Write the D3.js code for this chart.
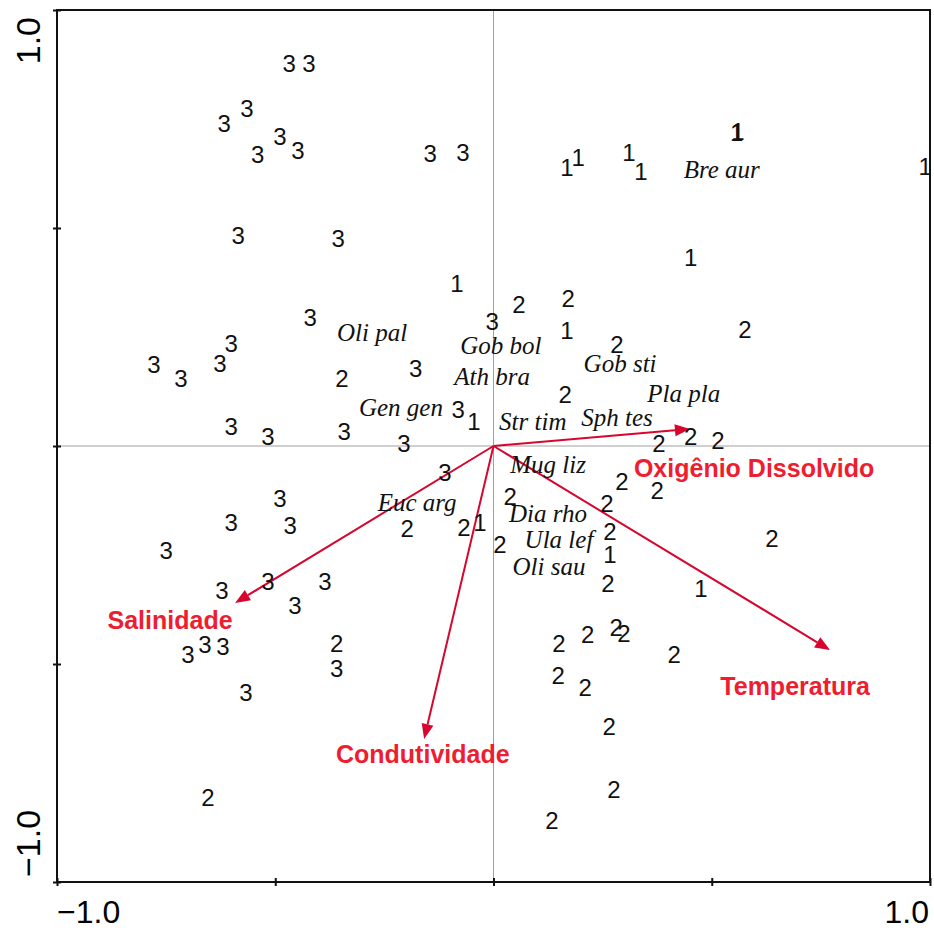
<!DOCTYPE html>
<html>
  <head>
    <meta charset="utf-8" />
    <title>CCA biplot</title>
    <script src="https://d3js.org/d3.v7.min.js"></script>
    <style>
        body{
            margin:0;
            background:#fff;
        }
    </style>
  </head>
  <body>
    <svg id="biplot">
        <g id="zero"></g>
        <g id="x"></g>
        <g id="y"></g>
        <g id="frame"></g>
        <g id="arrows"></g>
        <g id="samples"></g>
        <g id="species"></g>
        <g id="envLabels"></g>
    </svg>

    <script>
      // sample scores, one array per group (axis 1, axis 2)
      var group1 = [
        [-0.084, 0.372], [0.168, 0.638], [0.194, 0.663], [0.310, 0.674], [0.338, 0.631],
        [0.557, 0.720], [0.560, 0.721], [0.989, 0.642], [0.452, 0.433], [0.168, 0.266],
        [-0.045, 0.057], [-0.031, -0.174], [0.267, -0.248], [0.475, -0.326]
      ];
      var group2 = [
        [0.058, 0.326], [0.171, 0.339], [0.576, 0.268], [0.283, 0.234], [-0.347, 0.156],
        [0.164, 0.119], [0.379, 0.007], [0.452, 0.021], [0.514, 0.014], [0.294, -0.080],
        [0.375, -0.101], [0.038, -0.115], [0.260, -0.131], [-0.198, -0.188], [-0.068, -0.186],
        [0.267, -0.195], [0.015, -0.225], [0.638, -0.211], [0.262, -0.314], [-0.359, -0.452],
        [0.150, -0.452], [0.216, -0.433], [0.281, -0.415], [0.299, -0.429], [0.414, -0.479],
        [0.148, -0.525], [0.210, -0.553], [0.265, -0.644], [0.276, -0.787], [-0.654, -0.805],
        [0.134, -0.858]
      ];
      var group3 = [
        [-0.468, 0.878], [-0.423, 0.878], [-0.565, 0.775], [-0.617, 0.741], [-0.489, 0.711],
        [-0.540, 0.670], [-0.448, 0.679], [-0.145, 0.672], [-0.070, 0.674], [-0.585, 0.484],
        [-0.356, 0.477], [-0.420, 0.296], [-0.003, 0.287], [-0.601, 0.236], [-0.778, 0.188],
        [-0.627, 0.190], [-0.716, 0.156], [-0.178, 0.177], [-0.081, 0.083], [-0.601, 0.046],
        [-0.517, 0.023], [-0.342, 0.034], [-0.205, 0.007], [-0.111, -0.060], [-0.489, -0.119],
        [-0.601, -0.174], [-0.466, -0.181], [-0.750, -0.239], [-0.517, -0.310], [-0.386, -0.310],
        [-0.622, -0.330], [-0.455, -0.365], [-0.661, -0.456], [-0.620, -0.459], [-0.700, -0.477],
        [-0.359, -0.509], [-0.567, -0.564]
      ];

      // species scores
      var speciesNames = ["Bre aur", "Oli pal", "Gob bol", "Gob sti", "Ath bra", "Pla pla", "Gen gen",
        "Str tim", "Sph tes", "Mug liz", "Euc arg", "Dia rho", "Ula lef", "Oli sau"];
      var speciesX = [0.523, -0.278, 0.017, 0.290, -0.003, 0.436, -0.212, 0.090, 0.283, 0.125, -0.175, 0.125, 0.150, 0.127];
      var speciesY = [0.633, 0.257, 0.229, 0.188, 0.156, 0.117, 0.087, 0.055, 0.064, -0.044, -0.131, -0.158, -0.216, -0.278];

      // environmental variables: arrow tips and label anchors
      var envNames = ["Oxigênio Dissolvido", "Salinidade", "Condutividade", "Temperatura"];
      var envX = [0.450, -0.592, -0.159, 0.771];
      var envY = [0.039, -0.360, -0.672, -0.468];
      var envLabelX = [0.597, -0.741, -0.162, 0.691];
      var envLabelY = [-0.050, -0.399, -0.706, -0.550];

      var axisTicks = [-1, -0.5, 0, 0.5, 1];

      var width = 934;
      var height = 930;
      var margin = {top: 10, right: 4, bottom: 48, left: 57};

      var sans = "'Liberation Sans', Arial, sans-serif";
      var serif = "'Liberation Serif', 'Times New Roman', serif";
      var red = "#ee1d2f";
      var arrowRed = "#d6062e";

      var svg = d3.select("#biplot")
        .attr("width", width)
        .attr("height", height);

      var x = d3.scaleLinear()
        .domain([-1, 1])
        .range([margin.left, width - margin.right]);

      var y = d3.scaleLinear()
        .domain([-1, 1])
        .range([height - margin.bottom, margin.top]);

      // zero lines
      var zero = svg.select("#zero");
      zero.append("line")
        .attr("x1", x(-1)).attr("x2", x(1))
        .attr("y1", y(0)).attr("y2", y(0))
        .attr("stroke", "#a0a0a0").attr("stroke-width", 1);
      zero.append("line")
        .attr("x1", x(0)).attr("x2", x(0))
        .attr("y1", y(-1)).attr("y2", y(1))
        .attr("stroke", "#a0a0a0").attr("stroke-width", 1);

      // frame
      svg.select("#frame").append("rect")
        .attr("x", x(-1))
        .attr("y", y(1))
        .attr("width", x(1) - x(-1))
        .attr("height", y(-1) - y(1))
        .attr("fill", "none")
        .attr("stroke", "#111")
        .attr("stroke-width", 2);

      // axes: ticks cross the frame, only end labels
      var xAxis = d3.axisBottom(x).tickValues(axisTicks).tickSize(4).tickFormat("");
      var gx = svg.select("#x")
        .attr("transform", "translate(0," + y(-1) + ")")
        .call(xAxis);
      gx.select(".domain").remove();
      gx.selectAll(".tick line").attr("y1", -4).attr("stroke", "#111").attr("stroke-width", 2);

      var yAxis = d3.axisLeft(y).tickValues(axisTicks).tickSize(4).tickFormat("");
      var gy = svg.select("#y")
        .attr("transform", "translate(" + x(-1) + ",0)")
        .call(yAxis);
      gy.select(".domain").remove();
      gy.selectAll(".tick line").attr("x1", 4).attr("stroke", "#111").attr("stroke-width", 2);

      var fmt = d3.format(".1f");

      svg.append("text")
        .attr("x", x(-1))
        .attr("y", 923)
        .attr("text-anchor", "start")
        .style("font", "32px " + sans)
        .text(fmt(-1));
      svg.append("text")
        .attr("x", x(1) - 1)
        .attr("y", 923)
        .attr("text-anchor", "end")
        .style("font", "32px " + sans)
        .text(fmt(1));

      svg.append("text")
        .attr("transform", "translate(40," + (y(1) + 7) + ") rotate(-90)")
        .attr("text-anchor", "end")
        .style("font", "34px " + sans)
        .text(fmt(1));
      svg.append("text")
        .attr("transform", "translate(40," + (y(-1) - 5) + ") rotate(-90)")
        .attr("text-anchor", "start")
        .style("font", "34px " + sans)
        .text(fmt(-1));

      // environmental arrows
      var arrows = svg.select("#arrows");
      envNames.forEach(function(name, i) {
        var x0 = x(0), y0 = y(0);
        var x1 = x(envX[i]), y1 = y(envY[i]);
        var a = Math.atan2(y1 - y0, x1 - x0);
        var len = 15, half = 6;
        var bx = x1 - len * Math.cos(a), by = y1 - len * Math.sin(a);
        arrows.append("line")
          .attr("x1", x0).attr("y1", y0)
          .attr("x2", bx).attr("y2", by)
          .attr("stroke", arrowRed)
          .attr("stroke-width", 2);
        arrows.append("path")
          .attr("d", "M" + x1 + "," + y1 +
            "L" + (bx + half * Math.sin(a)) + "," + (by - half * Math.cos(a)) +
            "L" + (bx - half * Math.sin(a)) + "," + (by + half * Math.cos(a)) + "Z")
          .attr("fill", arrowRed);
      });

      // samples
      var samples = [];
      group1.forEach(function(d) { samples.push({g: "1", x: d[0], y: d[1]}); });
      group2.forEach(function(d) { samples.push({g: "2", x: d[0], y: d[1]}); });
      group3.forEach(function(d) { samples.push({g: "3", x: d[0], y: d[1]}); });

      svg.select("#samples").selectAll("text")
        .data(samples)
        .enter().append("text")
        .attr("x", function(d) { return x(d.x); })
        .attr("y", function(d) { return y(d.y); })
        .attr("dy", "0.36em")
        .attr("text-anchor", "middle")
        .style("font", "24px " + sans)
        .attr("fill", "#111")
        .text(function(d) { return d.g; });

      // species
      svg.select("#species").selectAll("text")
        .data(speciesNames)
        .enter().append("text")
        .attr("x", function(d, i) { return x(speciesX[i]); })
        .attr("y", function(d, i) { return y(speciesY[i]); })
        .attr("dy", "0.3em")
        .attr("text-anchor", "middle")
        .style("font", "italic 25px " + serif)
        .attr("fill", "#111")
        .text(function(d) { return d; });

      // environmental labels
      svg.select("#envLabels").selectAll("text")
        .data(envNames)
        .enter().append("text")
        .attr("x", function(d, i) { return x(envLabelX[i]); })
        .attr("y", function(d, i) { return y(envLabelY[i]); })
        .attr("dy", "0.36em")
        .attr("text-anchor", "middle")
        .style("font", "bold 25px " + sans)
        .attr("fill", red)
        .text(function(d) { return d; });
    </script>
  </body>
</html>
